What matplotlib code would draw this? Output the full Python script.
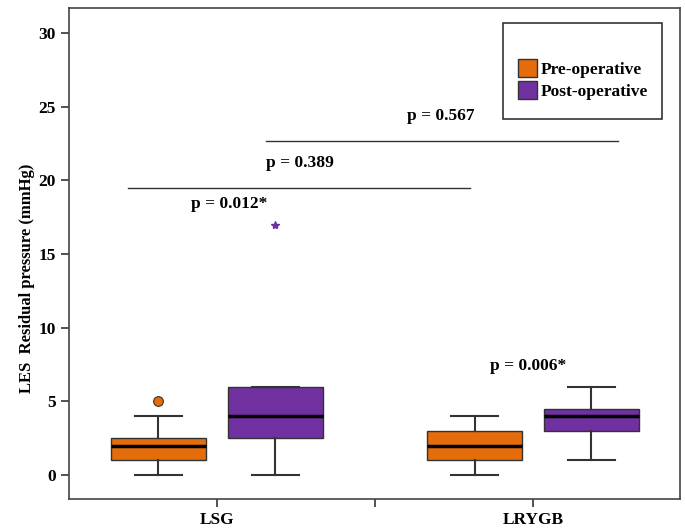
import matplotlib
matplotlib.use("Agg")
import matplotlib.pyplot as plt
from matplotlib.patches import Patch, Rectangle

# groups and box statistics (mmHg)
groups = ["LSG", "LRYGB"]
phases = ["Pre-operative", "Post-operative"]
colors = ["#E46C0A", "#7030A0"]

whislo = [[0, 0], [0, 1]]
q1 = [[1, 2.5], [1, 3]]
med = [[2, 4], [2, 4]]
q3 = [[2.5, 6], [3, 4.5]]
whishi = [[4, 6], [4, 6]]
circle_outliers = [[[5], []], [[], []]]
star_outliers = [[[], [17]], [[], []]]

# significance lines: (x start, x end, y) in group units, and labels
sig_lines = [(-0.28, 0.80, 19.5), (0.155, 1.27, 22.7)]
p_labels = [
    (0.04, 18.4, "p = 0.012*", "center"),
    (0.155, 21.2, "p = 0.389", "left"),
    (0.709, 24.4, "p = 0.567", "center"),
    (0.984, 7.4, "p = 0.006*", "center"),
]

plt.rcParams["font.family"] = ["Liberation Serif", "DejaVu Serif"]
plt.rcParams["font.weight"] = "bold"

fig = plt.figure(figsize=(6.85, 5.3), dpi=100)
ax = fig.add_axes([0.1007, 0.0585, 0.892, 0.9264])

offset = 0.185
width = 0.30
for gi, g in enumerate(groups):
    for pi in range(2):
        pos = gi + (pi * 2 - 1) * offset
        stats = [{
            "whislo": whislo[gi][pi], "q1": q1[gi][pi], "med": med[gi][pi],
            "q3": q3[gi][pi], "whishi": whishi[gi][pi],
            "fliers": circle_outliers[gi][pi],
        }]
        ax.bxp(stats, positions=[pos], widths=width, patch_artist=True,
               boxprops=dict(facecolor=colors[pi], edgecolor="#333333", linewidth=1.0),
               medianprops=dict(color="black", linewidth=2.5),
               whiskerprops=dict(color="#333333", linewidth=1.5),
               capprops=dict(color="#333333", linewidth=1.5),
               capwidths=width / 2,
               flierprops=dict(marker="o", markerfacecolor=colors[pi],
                               markeredgecolor="#333333", markersize=7,
                               markeredgewidth=0.8),
               manage_ticks=False)
        for v in star_outliers[gi][pi]:
            ax.plot(pos, v, marker="*", color=colors[pi], markersize=6,
                    linestyle="none")

for x0, x1, y in sig_lines:
    ax.plot([x0, x1], [y, y], color="#333333", linewidth=1.0)
for x, y, txt, ha in p_labels:
    ax.text(x, y, txt, ha=ha, va="center", fontsize=12.5, fontweight="bold")

ax.set_xlim(-0.468, 1.465)
ax.set_ylim(-1.63, 31.7)
ax.set_yticks([0, 5, 10, 15, 20, 25, 30])
ax.set_xticks([0, 0.5, 1])
ax.set_xticklabels(["LSG", "", "LRYGB"])
ax.tick_params(axis="both", direction="out", length=6, width=1.2,
               color="#333333", labelsize=12.5)
for lab in ax.get_xticklabels() + ax.get_yticklabels():
    lab.set_fontweight("bold")
for sp in ax.spines.values():
    sp.set_color("#444444")
    sp.set_linewidth(1.2)

ax.set_ylabel("LES  Residual pressure (mmHg)", fontsize=12, fontweight="bold")
ax.yaxis.set_label_coords(-0.056, 0.45)

# legend frame drawn separately so the entries sit low inside it
ax.add_patch(Rectangle((0.710, 0.774), 0.2605, 0.1955, transform=ax.transAxes,
                       facecolor="white", edgecolor="#333333", linewidth=1.2,
                       zorder=4))
handles = [Patch(facecolor=c, edgecolor="#333333", label=l)
           for c, l in zip(colors, phases)]
leg = ax.legend(handles=handles, loc="upper left",
                bbox_to_anchor=(0.721, 0.913), frameon=False,
                handlelength=1.1, handleheight=1.2, handletextpad=0.2,
                borderpad=0, labelspacing=0.15,
                prop=dict(weight="bold", size=12.5))
leg.set_zorder(5)

fig.savefig("out.png", dpi=100)
